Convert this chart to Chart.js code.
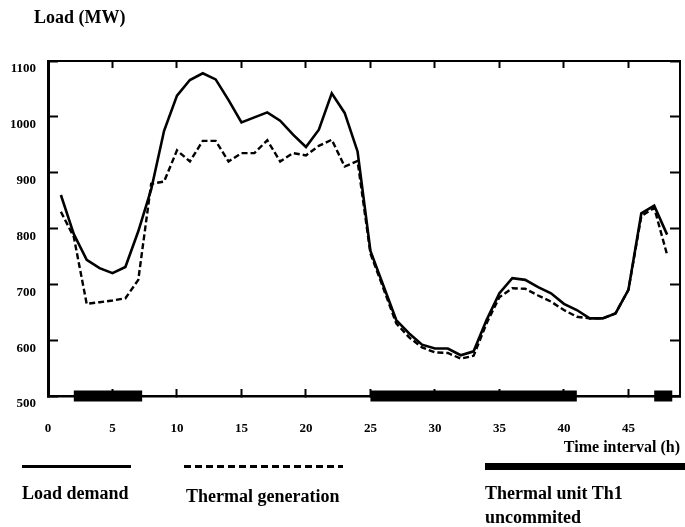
<!DOCTYPE html>
<html>
<head>
<meta charset="utf-8">
<title>Load demand and thermal generation</title>
<script src="https://cdn.jsdelivr.net/npm/chart.js@4.4.1/dist/chart.umd.min.js"></script>
<style>
  body { margin: 0; background: #fff; }
  #wrap { position: relative; width: 685px; height: 527px; font-family: "Liberation Serif", "Times New Roman", serif; font-weight: bold; color: #000; }
  #loadChart { position: absolute; left: 0; top: 0; }
  .txt { position: absolute; white-space: nowrap; line-height: 1; }
  .sample { position: absolute; background: #000; }
</style>
</head>
<body>
<div id="wrap">
  <canvas id="loadChart" width="685" height="527"></canvas>
  <div class="txt" style="left:34px; top:8px; font-size:18px;">Load (MW)</div>

  <div class="sample" style="left:22px; top:465px; width:109px; height:3px;"></div>
  <div class="sample" style="left:184px; top:465px; width:159px; height:3px; background:repeating-linear-gradient(to right, #000 0 7px, transparent 7px 11px);"></div>
  <div class="sample" style="left:485px; top:463px; width:200px; height:7px;"></div>

  <div class="txt" style="left:22px; top:484px; font-size:18px;">Load demand</div>
  <div class="txt" style="left:186px; top:487px; font-size:18px;">Thermal generation</div>
  <div class="txt" style="left:485px; top:484px; font-size:18px;">Thermal unit Th1</div>
  <div class="txt" style="left:485px; top:508px; font-size:18px;">uncommited</div>
</div>
<script>
  // hourly time intervals
  const hours = [1, 2, 3, 4, 5, 6, 7, 8, 9, 10, 11, 12, 13, 14, 15, 16,
                 17, 18, 19, 20, 21, 22, 23, 24, 25, 26, 27, 28, 29, 30, 31, 32,
                 33, 34, 35, 36, 37, 38, 39, 40, 41, 42, 43, 44, 45, 46, 47, 48];

  // MW
  const loadDemand = [860, 790, 744, 729, 720, 731, 795, 870, 975, 1038, 1066, 1078,
                      1067, 1030, 990, 999, 1008, 993, 968, 946, 977, 1042, 1007, 938,
                      760, 698, 636, 612, 592, 585, 585, 573, 580, 636, 684, 711,
                      708, 695, 684, 665, 654, 639, 639, 648, 690, 827, 841, 789];

  const thermalGeneration = [830, 785, 665, 668, 671, 675, 708, 880, 884, 940, 920, 957,
                             957, 920, 935, 935, 958, 920, 935, 931, 948, 959, 911, 921,
                             755, 693, 630, 605, 587, 578, 577, 567, 572, 630, 677, 693,
                             692, 680, 669, 654, 642, 639, 639, 648, 690, 822, 837, 753];

  // periods (h) when thermal unit Th1 is off
  const uncommitted = [[2, 7.3], [25, 41], [47, 48.4]];

  const xTicks = [0, 5, 10, 15, 20, 25, 30, 35, 40, 45];
  const yTicks = [500, 600, 700, 800, 900, 1000, 1100];

  const toPoints = vals => hours.map((h, i) => ({ x: h, y: vals[i] }));

  // off periods drawn as a thick line on the 500 MW floor, broken by nulls
  const offPoints = [];
  uncommitted.forEach(([a, b]) => {
    offPoints.push({ x: a, y: yTicks[0] }, { x: b, y: yTicks[0] }, { x: b, y: null });
  });

  const tickFont = { family: 'Liberation Serif', size: 13, weight: 'bold' };
  const setX = scale => { scale.ticks = xTicks.map(v => ({ value: v })); };
  const setY = scale => { scale.ticks = yTicks.map(v => ({ value: v })); };
  const inward = len => ({ drawOnChartArea: false, drawTicks: true, tickLength: -len, tickWidth: 2, tickColor: '#000' });

  new Chart(document.getElementById('loadChart'), {
    type: 'line',
    data: {
      datasets: [
        {
          label: 'Load demand',
          data: toPoints(loadDemand),
          borderColor: '#000',
          borderWidth: 2.6
        },
        {
          label: 'Thermal generation',
          data: toPoints(thermalGeneration),
          borderColor: '#000',
          borderWidth: 2.4,
          borderDash: [6, 3]
        },
        {
          label: 'Thermal unit Th1 uncommited',
          data: offPoints,
          borderColor: '#000',
          borderWidth: 11,
          borderCapStyle: 'butt',
          spanGaps: false,
          clip: false
        }
      ]
    },
    options: {
      responsive: false,
      animation: false,
      devicePixelRatio: 1,
      layout: { padding: 0 },
      elements: { point: { radius: 0, hoverRadius: 0 }, line: { tension: 0, fill: false } },
      plugins: { legend: { display: false }, tooltip: { enabled: false } },
      scales: {
        x: {
          type: 'linear', position: 'bottom', min: 0, max: 49,
          afterBuildTicks: setX,
          afterFit: s => { s.height = 131; },
          ticks: { font: tickFont, color: '#000', padding: 32, maxRotation: 0, autoSkip: false, callback: v => String(v) },
          grid: inward(7),
          border: { color: '#000', width: 2.5 },
          title: {
            display: true, text: 'Time interval (h)', align: 'end', color: '#000',
            font: { family: 'Liberation Serif', size: 16, weight: 'bold' },
            padding: { top: 0, bottom: 70 }
          }
        },
        xTop: {
          type: 'linear', position: 'top', min: 0, max: 49,
          afterBuildTicks: setX,
          afterFit: s => { s.height = 61; },
          ticks: { display: false },
          grid: inward(7),
          border: { color: '#000', width: 2 }
        },
        y: {
          type: 'linear', position: 'left', min: 500, max: 1100,
          afterBuildTicks: setY,
          afterFit: s => { s.width = 48; },
          ticks: { font: tickFont, color: '#000', padding: 22, labelOffset: 8, callback: v => String(v) },
          grid: inward(10),
          border: { color: '#000', width: 3 }
        },
        yRight: {
          type: 'linear', position: 'right', min: 500, max: 1100,
          afterBuildTicks: setY,
          afterFit: s => { s.width = 5; },
          ticks: { display: false },
          grid: inward(10),
          border: { color: '#000', width: 2 }
        }
      }
    }
  });
</script>
</body>
</html>
